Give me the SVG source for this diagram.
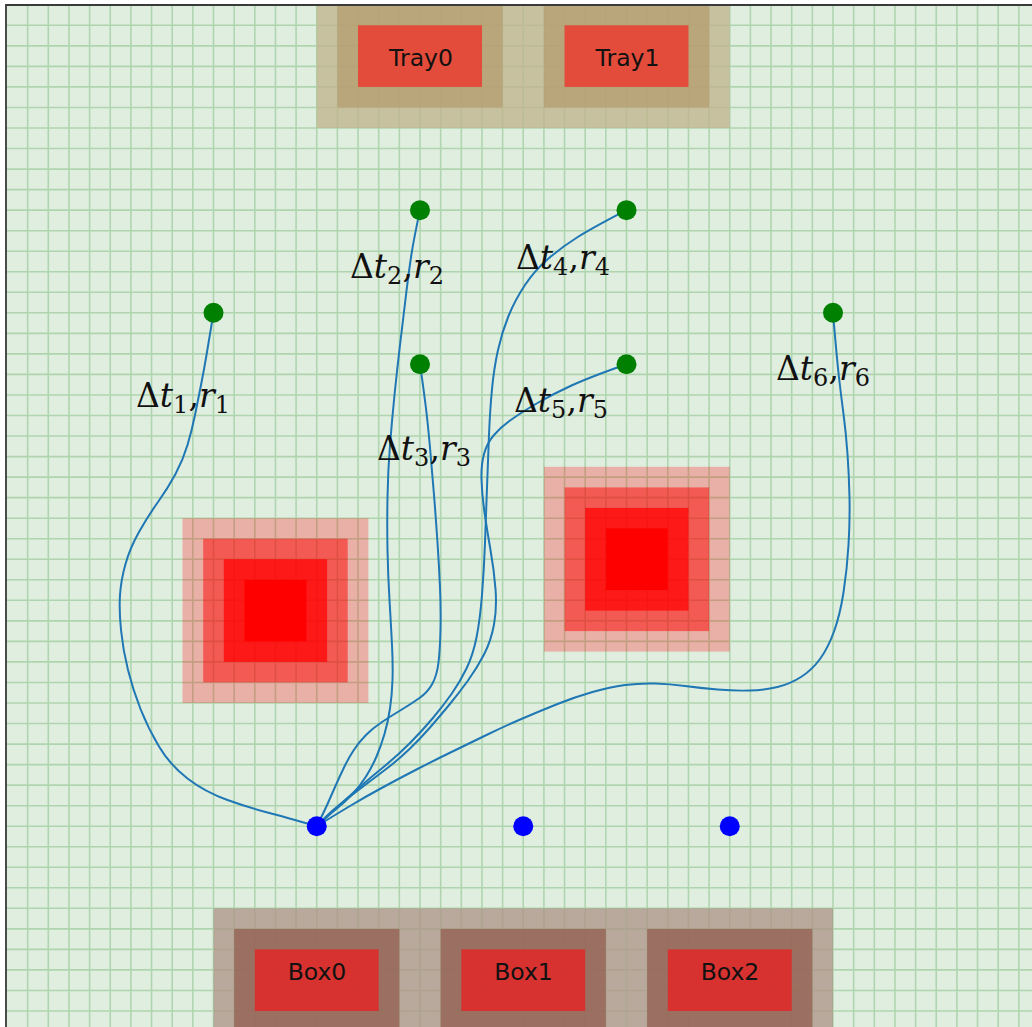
<svg xmlns="http://www.w3.org/2000/svg" width="1032" height="1027" viewBox="0 0 1032 1027">
  <defs>
    <style>
      .grid { fill: none; stroke: #008000; stroke-opacity: 0.22; stroke-width: 1.6; }
      .spine { fill: none; stroke: #3a3a3a; stroke-width: 1.8; }
      .edge { fill: none; stroke: #1f77b4; stroke-width: 2; }
      .goal { fill: #008000; }
      .start { fill: #0000ff; }
      .tray-o { fill: #c0b18b; fill-opacity: 0.75; }
      .tray-m { fill: #b49c6d; fill-opacity: 0.75; }
      .tray-i { fill: #f22e25; fill-opacity: 0.75; }
      .box-o { fill: #ac9185; fill-opacity: 0.75; }
      .box-m { fill: #915d4f; fill-opacity: 0.75; }
      .box-i { fill: #eb1d1f; fill-opacity: 0.75; }
      .obs1 { fill: #ff0000; fill-opacity: 0.26; }
      .obs2 { fill: #ff0000; fill-opacity: 0.49; }
      .obs3 { fill: #ff0000; fill-opacity: 0.72; }
      .obs4 { fill: #ff0000; fill-opacity: 1; }
      .name { font-family: "DejaVu Sans", sans-serif; font-size: 23.5px; fill: #111; text-anchor: middle; }
      .lbl { font-family: "DejaVu Serif", "Liberation Serif", serif; font-size: 33px; fill: #111; }
      .it { font-style: italic; }
      .sub { font-size: 24px; }
    </style>
    <clipPath id="plot">
      <rect x="6" y="5" width="1026" height="1022"/>
    </clipPath>
  </defs>

  <!-- canvas and plot area -->
  <rect x="0" y="0" width="1032" height="1027" fill="#ffffff"/>
  <rect x="6" y="5" width="1026" height="1022" fill="#e0eee0"/>

  <!-- cell grid: 20.65 px columns, 20.535 px rows -->
  <path class="grid" d="M27.65,5V1027M48.3,5V1027M68.95,5V1027M89.6,5V1027M110.25,5V1027M130.9,5V1027M151.55,5V1027M172.2,5V1027M192.85,5V1027M213.5,5V1027M234.15,5V1027M254.8,5V1027M275.45,5V1027M296.1,5V1027M316.75,5V1027M337.4,5V1027M358.05,5V1027M378.7,5V1027M399.35,5V1027M420,5V1027M440.65,5V1027M461.3,5V1027M481.95,5V1027M502.6,5V1027M523.25,5V1027M543.9,5V1027M564.55,5V1027M585.2,5V1027M605.85,5V1027M626.5,5V1027M647.15,5V1027M667.8,5V1027M688.45,5V1027M709.1,5V1027M729.75,5V1027M750.4,5V1027M771.05,5V1027M791.7,5V1027M812.35,5V1027M833,5V1027M853.65,5V1027M874.3,5V1027M894.95,5V1027M915.6,5V1027M936.25,5V1027M956.9,5V1027M977.55,5V1027M998.2,5V1027M1018.85,5V1027
  M6,25.3H1032M6,45.9H1032M6,66.4H1032M6,86.9H1032M6,107.5H1032M6,128H1032M6,148.5H1032M6,169.1H1032M6,189.6H1032M6,210.15H1032M6,230.7H1032M6,251.2H1032M6,271.8H1032M6,292.3H1032M6,312.8H1032M6,333.4H1032M6,353.9H1032M6,374.4H1032M6,395H1032M6,415.5H1032M6,436H1032M6,456.6H1032M6,477.1H1032M6,497.6H1032M6,518.2H1032M6,538.7H1032M6,559.2H1032M6,579.8H1032M6,600.3H1032M6,620.9H1032M6,641.4H1032M6,661.9H1032M6,682.5H1032M6,703H1032M6,723.5H1032M6,744.1H1032M6,764.6H1032M6,785.1H1032M6,805.7H1032M6,826.2H1032M6,846.7H1032M6,867.3H1032M6,887.8H1032M6,908.3H1032M6,928.9H1032M6,949.4H1032M6,969.9H1032M6,990.5H1032M6,1011H1032"/>

  <g clip-path="url(#plot)">
    <!-- obstacles -->
    <g id="obstacle0">
      <rect class="obs1" x="182.5" y="518.2" width="185.9" height="184.8"/>
      <rect class="obs2" x="203.2" y="538.7" width="144.5" height="143.7"/>
      <rect class="obs3" x="223.8" y="559.2" width="103.3" height="102.7"/>
      <rect class="obs4" x="244.5" y="579.8" width="61.9" height="61.6"/>
    </g>
    <g id="obstacle1">
      <rect class="obs1" x="543.9" y="466.8" width="185.9" height="184.8"/>
      <rect class="obs2" x="564.6" y="487.4" width="144.5" height="143.7"/>
      <rect class="obs3" x="585.2" y="507.9" width="103.3" height="102.7"/>
      <rect class="obs4" x="605.9" y="528.4" width="61.9" height="61.6"/>
    </g>

    <!-- trays -->
    <g id="tray0">
      <rect class="tray-o" x="316.75" y="5" width="206.5" height="123"/>
      <rect class="tray-m" x="337.4" y="5" width="165.2" height="102.5"/>
      <rect class="tray-i" x="358.05" y="25.3" width="123.9" height="61.6"/>
      <text class="name" x="421" y="65.5">Tray0</text>
    </g>
    <g id="tray1">
      <rect class="tray-o" x="523.25" y="5" width="206.5" height="123"/>
      <rect class="tray-m" x="543.9" y="5" width="165.2" height="102.5"/>
      <rect class="tray-i" x="564.55" y="25.3" width="123.9" height="61.6"/>
      <text class="name" x="627.5" y="65.5">Tray1</text>
    </g>

    <!-- boxes -->
    <g id="box0">
      <rect class="box-o" x="213.5" y="908.3" width="206.5" height="120"/>
      <rect class="box-m" x="234.15" y="928.9" width="165.2" height="100"/>
      <rect class="box-i" x="254.8" y="949.4" width="123.9" height="61.6"/>
      <text class="name" x="317" y="979.5">Box0</text>
    </g>
    <g id="box1">
      <rect class="box-o" x="420" y="908.3" width="206.5" height="120"/>
      <rect class="box-m" x="440.65" y="928.9" width="165.2" height="100"/>
      <rect class="box-i" x="461.3" y="949.4" width="123.9" height="61.6"/>
      <text class="name" x="523.5" y="979.5">Box1</text>
    </g>
    <g id="box2">
      <rect class="box-o" x="626.5" y="908.3" width="206.5" height="120"/>
      <rect class="box-m" x="647.15" y="928.9" width="165.2" height="100"/>
      <rect class="box-i" x="667.8" y="949.4" width="123.9" height="61.6"/>
      <text class="name" x="730" y="979.5">Box2</text>
    </g>
  </g>

  <!-- axes frame -->
  <path class="spine" d="M6,1027V5H1032"/>

  <!-- trajectories from the start point to each goal -->
  <g id="connectors">
    <path class="edge" d="M316.75,826.2 Q285,817 267.5,812.5 Q250,808 227.5,800 Q205,792 187.5,778.5 Q170,765 159,746.5 Q148,728 140.5,709 Q133,690 128,670 Q123,650 121,630 Q119,610 120,595 Q121,580 125.5,564 Q130,548 139,532 Q148,516 158,502 Q168,488 175.5,474 Q183,460 187.5,445 Q192,430 195,415 Q198,400 201,385 Q204,370 206.5,355 Q209,340 213.5,312.8"/>
    <path class="edge" d="M316.75,826.2 Q330,814 337.5,808 Q345,802 352.5,794 Q360,786 366,776.5 Q372,767 376.5,756.5 Q381,746 384.5,734 Q388,722 390,708.5 Q392,695 392.5,680 Q393,665 392,645 Q391,625 389.5,600 Q388,575 387.5,550 Q387,525 387.5,497.5 Q388,470 390,445 Q392,420 394.5,395 Q397,370 400,345 Q403,320 406,295 Q409,270 411.5,254 Q414,238 420,210.15"/>
    <path class="edge" d="M316.75,826.2 Q324,812 327.5,804 Q331,796 335,787 Q339,778 343.5,768.5 Q348,759 353.5,750.5 Q359,742 366,735 Q373,728 382,722 Q391,716 401,710 Q411,704 419.5,698 Q428,692 432.5,683.5 Q437,675 438.5,662.5 Q440,650 440.5,630 Q441,610 440,587.5 Q439,565 437.5,542.5 Q436,520 434,495 Q432,470 430,447.5 Q428,425 426,408.5 Q424,392 420,364.2"/>
    <path class="edge" d="M316.75,826.2 Q325,818 335,809 Q345,800 357.5,789 Q370,778 383.5,767 Q397,756 409.5,743.5 Q422,731 432.5,718.5 Q443,706 451.5,694 Q460,682 466.5,668.5 Q473,655 476.5,637.5 Q480,620 482,595 Q484,570 485,542.5 Q486,515 487,487.5 Q488,460 489,435 Q490,410 492,389 Q494,368 498,350 Q502,332 508.5,316 Q515,300 525,285 Q535,270 548.5,258.5 Q562,247 577,237.5 Q592,228 626.5,210.15"/>
    <path class="edge" d="M316.75,826.2 Q328,814 338,806 Q348,798 360.5,788.5 Q373,779 385.5,769.5 Q398,760 409,749.5 Q420,739 430,727.5 Q440,716 449.5,704.5 Q459,693 468,680.5 Q477,668 484,654.5 Q491,641 494,624.5 Q497,608 495.5,589 Q494,570 490.5,550 Q487,530 484.5,512.5 Q482,495 481.5,480 Q481,465 484,454 Q487,443 494,435 Q501,427 511.5,419.5 Q522,412 537.5,403 Q553,394 571.5,385.5 Q590,377 626.5,364.2"/>
    <path class="edge" d="M316.75,826.2 Q335,815 350,806 Q365,797 382.5,787.5 Q400,778 417.5,769 Q435,760 452.5,751.5 Q470,743 487.5,734.5 Q505,726 522.5,718.5 Q540,711 557.5,704 Q575,697 592.5,692 Q610,687 625,685 Q640,683 655,683.5 Q670,684 685,686 Q700,688 717.5,689.5 Q735,691 750,690.5 Q765,690 777.5,687 Q790,684 801,677 Q812,670 820,659 Q828,648 834,631.5 Q840,615 843.5,592.5 Q847,570 848.5,545 Q850,520 849.5,497.5 Q849,475 847.5,454 Q846,433 843.5,414 Q841,395 839,377.5 Q837,360 833,312.8"/>

    <!-- edge labels -->
    <text class="lbl" x="136" y="407">Δ<tspan class="it">t</tspan><tspan class="sub" dy="6">1</tspan><tspan dy="-6">,</tspan><tspan class="it">r</tspan><tspan class="sub" dy="6">1</tspan></text>
    <text class="lbl" x="350" y="278">Δ<tspan class="it">t</tspan><tspan class="sub" dy="6">2</tspan><tspan dy="-6">,</tspan><tspan class="it">r</tspan><tspan class="sub" dy="6">2</tspan></text>
    <text class="lbl" x="377" y="460">Δ<tspan class="it">t</tspan><tspan class="sub" dy="6">3</tspan><tspan dy="-6">,</tspan><tspan class="it">r</tspan><tspan class="sub" dy="6">3</tspan></text>
    <text class="lbl" x="516" y="269">Δ<tspan class="it">t</tspan><tspan class="sub" dy="6">4</tspan><tspan dy="-6">,</tspan><tspan class="it">r</tspan><tspan class="sub" dy="6">4</tspan></text>
    <text class="lbl" x="514" y="412">Δ<tspan class="it">t</tspan><tspan class="sub" dy="6">5</tspan><tspan dy="-6">,</tspan><tspan class="it">r</tspan><tspan class="sub" dy="6">5</tspan></text>
    <text class="lbl" x="776" y="380">Δ<tspan class="it">t</tspan><tspan class="sub" dy="6">6</tspan><tspan dy="-6">,</tspan><tspan class="it">r</tspan><tspan class="sub" dy="6">6</tspan></text>
  </g>

  <!-- goal points -->
  <g id="goal1"><circle class="goal" cx="213.5" cy="312.8" r="10"/></g>
  <g id="goal2"><circle class="goal" cx="420" cy="210.15" r="10"/></g>
  <g id="goal3"><circle class="goal" cx="420" cy="364.2" r="10"/></g>
  <g id="goal4"><circle class="goal" cx="626.5" cy="210.15" r="10"/></g>
  <g id="goal5"><circle class="goal" cx="626.5" cy="364.2" r="10"/></g>
  <g id="goal6"><circle class="goal" cx="833" cy="312.8" r="10"/></g>

  <!-- start points -->
  <g id="start0"><circle class="start" cx="316.75" cy="826.2" r="10"/></g>
  <g id="start1"><circle class="start" cx="523.25" cy="826.2" r="10"/></g>
  <g id="start2"><circle class="start" cx="729.75" cy="826.2" r="10"/></g>
</svg>
